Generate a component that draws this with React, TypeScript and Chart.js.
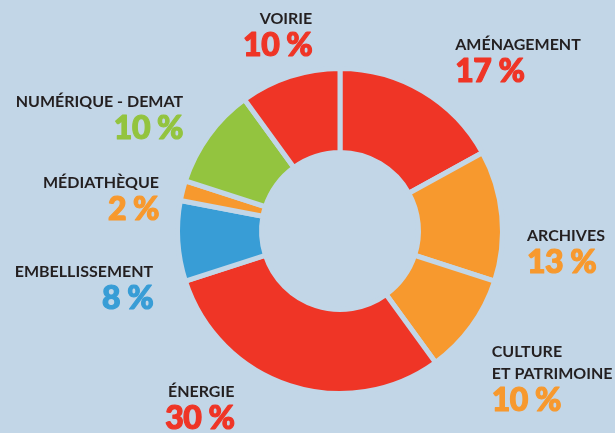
import React, { useEffect, useRef } from "react";
import { Chart, registerables } from "chart.js";

Chart.register(...registerables);

// ---- data ----
const categories: string[] = [
  "AMÉNAGEMENT",
  "ARCHIVES",
  "CULTURE\nET PATRIMOINE",
  "ÉNERGIE",
  "EMBELLISSEMENT",
  "MÉDIATHÈQUE",
  "NUMÉRIQUE - DEMAT",
  "VOIRIE",
];
const shares: number[] = [17, 13, 10, 30, 8, 2, 10, 10];

// ---- styles / layout ----
const RED = "#ef3526";
const ORANGE = "#f7992e";
const GREEN = "#93c43f";
const BLUE = "#389dd6";
const BG = "#c2d6e7";
const TEXT = "#231f20";
const sliceColors = [RED, ORANGE, ORANGE, RED, BLUE, ORANGE, GREEN, RED];
const labelAngleShift = [3.4, 11.4, 8, 13, -13, -4, 0, 10]; // degrees, label placement nudge
const labelGap = [46, 28, 51, 45, 35, 24, 34, 39]; // px beyond the ring
const BORDER = 5;

const labelPlugin = {
  id: "outerLabels",
  afterDatasetsDraw(chart: any) {
    const ctx: CanvasRenderingContext2D = chart.ctx;
    const meta = chart.getDatasetMeta(0);
    ctx.save();
    meta.data.forEach((arc: any, i: number) => {
      const p = arc.getProps(["x", "y", "startAngle", "endAngle", "outerRadius"], true);
      const mid = (p.startAngle + p.endAngle) / 2 + (labelAngleShift[i] * Math.PI) / 180;
      const r = p.outerRadius - BORDER / 2 + labelGap[i];
      const ax = p.x + Math.cos(mid) * r;
      const ay = p.y + Math.sin(mid) * r;
      const align: CanvasTextAlign = ax >= p.x ? "left" : "right";
      const lines = categories[i].split("\n");
      const nameLH = 22;
      const pctGap = 32;
      const cap = 12;
      const height = cap + (lines.length - 1) * nameLH + pctGap;
      const y = ay - height / 2 + cap;
      ctx.textAlign = align;
      ctx.textBaseline = "alphabetic";
      ctx.fillStyle = TEXT;
      (ctx as any).letterSpacing = "0px";
      ctx.font = "700 16px Lato, 'Open Sans', sans-serif";
      lines.forEach((ln, k) => {
        ctx.fillText(ln, ax, y + k * nameLH);
      });
      const pctY = y + (lines.length - 1) * nameLH + pctGap;
      ctx.fillStyle = sliceColors[i];
      ctx.strokeStyle = sliceColors[i];
      ctx.lineWidth = 1.2;
      ctx.lineJoin = "round";
      (ctx as any).letterSpacing = "-0.5px";
      ctx.font = "900 32px Lato, 'Open Sans', sans-serif";
      const txt = `${shares[i]} %`;
      ctx.fillText(txt, ax, pctY);
      ctx.strokeText(txt, ax, pctY);
    });
    ctx.restore();
  },
};

export default function App() {
  const ref = useRef<HTMLCanvasElement | null>(null);
  useEffect(() => {
    if (!ref.current) return;
    const chart = new Chart(ref.current, {
      type: "doughnut",
      data: {
        labels: categories.map((c) => c.replace("\n", " ")),
        datasets: [
          {
            data: shares,
            backgroundColor: sliceColors,
            borderColor: BG,
            borderWidth: BORDER,
            borderAlign: "center",
            borderJoinStyle: "miter",
            hoverOffset: 0,
          } as any,
        ],
      },
      options: {
        responsive: false,
        animation: false,
        events: [],
        cutout: "48.3%",
        rotation: 0,
        layout: { padding: { top: 66, bottom: 37, left: 175, right: 110 } },
        plugins: {
          legend: { display: false },
          tooltip: { enabled: false },
        },
      },
      plugins: [labelPlugin],
    });
    return () => chart.destroy();
  }, []);
  return (
    <div
      style={{
        position: "fixed",
        left: 0,
        top: 0,
        width: 615,
        height: 433,
        background: BG,
        overflow: "hidden",
      }}
    >
      <canvas ref={ref} width={615} height={433} style={{ display: "block" }} />
    </div>
  );
}
